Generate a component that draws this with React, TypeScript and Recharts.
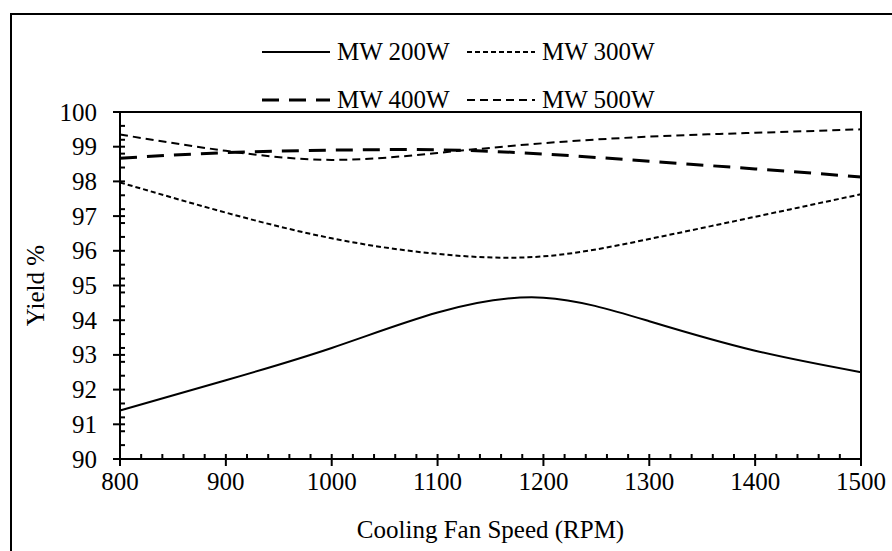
import { LineChart, Line, XAxis, YAxis, Legend, ReferenceArea } from "recharts";

const rpm = [800, 900, 1000, 1100, 1200, 1300, 1400, 1500];
const mw200 = [91.4, 92.27, 93.2, 94.22, 94.65, 93.97, 93.12, 92.5];
const mw300 = [97.97, 97.1, 96.36, 95.91, 95.84, 96.34, 96.98, 97.63];
const mw400 = [98.67, 98.83, 98.9, 98.91, 98.79, 98.58, 98.36, 98.13];
const mw500 = [99.35, 98.88, 98.62, 98.82, 99.1, 99.29, 99.4, 99.5];

const xLabels = [800, 900, 1000, 1100, 1200, 1300, 1400, 1500];
const yLabels = [90, 91, 92, 93, 94, 95, 96, 97, 98, 99, 100];

// minor ticks: every 20 rpm on x, every 0.4 % on y
const xTicks: number[] = [];
for (let v = 800; v <= 1500; v += 20) xTicks.push(v);
const yTicks: number[] = [...yLabels];
for (let i = 1; i < 25; i++) {
  const v = Math.round((90 + 0.4 * i) * 10) / 10;
  if (!Number.isInteger(v)) yTicks.push(v);
}

const data = rpm.map((r, i) => ({
  rpm: r,
  mw200: mw200[i],
  mw300: mw300[i],
  mw400: mw400[i],
  mw500: mw500[i],
}));

const series = [
  { key: "mw200", name: "MW 200W", dash: undefined, width: 2 },
  { key: "mw300", name: "MW 300W", dash: "5 3", width: 2 },
  { key: "mw400", name: "MW 400W", dash: "17 10", width: 3 },
  { key: "mw500", name: "MW 500W", dash: "8 5", width: 2 },
];

const font = "Liberation Serif, Tinos, Times New Roman, Times, DejaVu Serif, Noto Serif, serif";
const fontSize = 25;

const XTick = (props: any) => {
  const { x, y, payload } = props;
  const major = xLabels.includes(payload.value);
  return (
    <g>
      <line x1={x} x2={x} y1={y - 5} y2={major ? y + 7 : y} stroke="#000" strokeWidth={2} />
      {major && (
        <text x={x} y={y + 22} textAnchor="middle" dominantBaseline="central" style={{ fontFamily: font }} fontSize={fontSize} fill="#000">
          {payload.value}
        </text>
      )}
    </g>
  );
};

const YTick = (props: any) => {
  const { x, y, payload } = props;
  const major = yLabels.includes(payload.value);
  return (
    <g>
      <line x1={major ? x - 7 : x} x2={x + 5} y1={y} y2={y} stroke="#000" strokeWidth={2} />
      {major && (
        <text x={x - 23} y={y} textAnchor="end" dominantBaseline="central" style={{ fontFamily: font }} fontSize={fontSize} fill="#000">
          {payload.value}
        </text>
      )}
    </g>
  );
};

const renderLegend = () => (
  <div style={{ position: "relative", width: 892, height: 80, fontFamily: font, fontSize, color: "#000" }}>
    {series.map((s, i) => (
      <div
        key={s.key}
        style={{
          position: "absolute",
          left: 262 + (i % 2) * 205,
          top: Math.floor(i / 2) * 48,
          height: 30,
          display: "flex",
          alignItems: "center",
          whiteSpace: "nowrap",
        }}
      >
        <svg width={68} height={10}>
          <line x1={0} x2={68} y1={5} y2={5} stroke="#000" strokeWidth={s.width} strokeDasharray={s.dash} />
        </svg>
        <span style={{ marginLeft: 7 }}>{s.name}</span>
      </div>
    ))}
  </div>
);

export default function App() {
  return (
    <div style={{ position: "absolute", left: 0, top: 0, width: 892, height: 551, background: "#fff", overflow: "hidden", fontFamily: font }}>
      <div
        style={{
          position: "absolute",
          left: 10,
          top: 13,
          width: 920,
          height: 580,
          borderLeft: "2px solid #000",
          borderTop: "2px solid #000",
        }}
      />
      <div style={{ position: "absolute", left: 0, top: 0 }}>
        <LineChart width={892} height={551} data={data} margin={{ top: 112, right: 31, bottom: 32, left: 20 }}>
          <XAxis
            dataKey="rpm"
            type="number"
            domain={[800, 1500]}
            ticks={xTicks}
            interval={0}
            tick={<XTick />}
            tickSize={0}
            tickMargin={0}
            tickLine={false}
            height={60}
            axisLine={{ stroke: "#000", strokeWidth: 2 }}
            label={{
              content: (p: any) => {
                const vb = p.viewBox || {};
                return (
                  <text
                    x={vb.x + vb.width / 2}
                    y={vb.y + 70}
                    textAnchor="middle"
                    dominantBaseline="central"
                    style={{ fontFamily: font }}
                    fontSize={fontSize}
                    fill="#000"
                  >
                    Cooling Fan Speed (RPM)
                  </text>
                );
              },
            }}
          />
          <YAxis
            type="number"
            domain={[90, 100]}
            ticks={yTicks}
            interval={0}
            tick={<YTick />}
            tickSize={0}
            tickMargin={0}
            tickLine={false}
            width={100}
            axisLine={{ stroke: "#000", strokeWidth: 2 }}
            label={{
              content: (p: any) => {
                const vb = p.viewBox || {};
                const cx = vb.x + 15;
                const cy = vb.y + vb.height / 2;
                return (
                  <text
                    x={cx}
                    y={cy}
                    transform={`rotate(-90, ${cx}, ${cy})`}
                    textAnchor="middle"
                    dominantBaseline="central"
                    style={{ fontFamily: font }}
                    fontSize={fontSize}
                    fill="#000"
                  >
                    Yield %
                  </text>
                );
              },
            }}
          />
          <ReferenceArea x1={800} x2={1500} y1={90} y2={100} fill="none" stroke="#000" strokeWidth={2} />
          <Legend
            layout="horizontal"
            verticalAlign="middle"
            align="center"
            content={renderLegend}
            wrapperStyle={{ top: 37, left: 0, width: 892, height: 80 }}
          />
          {series.map((s) => (
            <Line
              key={s.key}
              type="natural"
              dataKey={s.key}
              name={s.name}
              stroke="#000"
              strokeWidth={s.width}
              strokeDasharray={s.dash}
              dot={false}
              activeDot={false}
              isAnimationActive={false}
            />
          ))}
        </LineChart>
      </div>
    </div>
  );
}
